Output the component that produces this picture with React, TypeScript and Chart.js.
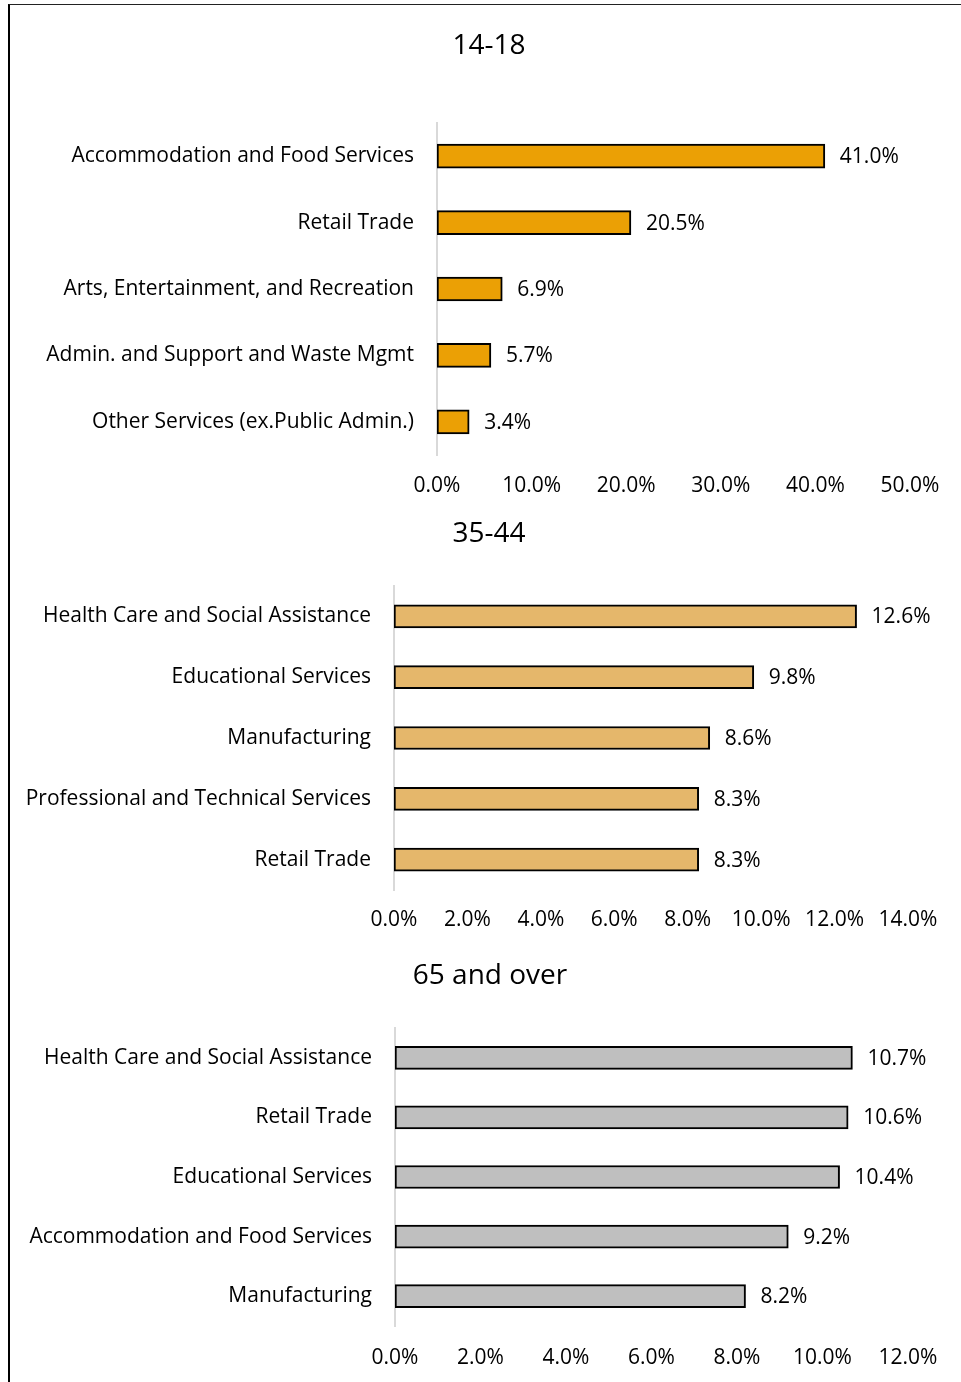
import React, { useEffect, useRef } from "react";
import { Chart, registerables } from "chart.js";

Chart.register(...registerables);

const youthTitle = "14-18";
const youthCategories = [
  "Accommodation and Food Services",
  "Retail Trade",
  "Arts, Entertainment, and Recreation",
  "Admin. and Support and Waste Mgmt",
  "Other Services (ex.Public Admin.)",
];
const youthValues = [41.0, 20.5, 6.9, 5.7, 3.4];
const youthAxis = { max: 50, step: 10 };

const midTitle = "35-44";
const midCategories = [
  "Health Care and Social Assistance",
  "Educational Services",
  "Manufacturing",
  "Professional and Technical Services",
  "Retail Trade",
];
const midValues = [12.6, 9.8, 8.6, 8.3, 8.3];
const midAxis = { max: 14, step: 2 };

const seniorTitle = "65 and over";
const seniorCategories = [
  "Health Care and Social Assistance",
  "Retail Trade",
  "Educational Services",
  "Accommodation and Food Services",
  "Manufacturing",
];
const seniorValues = [10.7, 10.6, 10.4, 9.2, 8.2];
const seniorAxis = { max: 12, step: 2 };

const FONT = "'Open Sans', 'Noto Sans', sans-serif";
const LABEL_SIZE = 21;
const TITLE_SIZE = 28;
const CANVAS_LEFT = 10;
const CANVAS_W = 951;

type PanelProps = {
  title: string;
  categories: string[];
  values: number[];
  axis: { max: number; step: number };
  color: string;
  top: number;
  height: number;
  titleCenterX: number;
  titleCenter: number;
  plotTop: number;
  plotBottom: number;
  axisX: number;
  axisEnd: number;
  barThickness: number;
  tickPad: number;
};

const valueLabels = {
  id: "valueLabels",
  afterDatasetsDraw(chart: any) {
    const ctx = chart.ctx;
    const meta = chart.getDatasetMeta(0);
    const data = chart.data.datasets[0].data as number[];
    ctx.save();
    ctx.font = `${LABEL_SIZE}px ${FONT}`;
    ctx.fillStyle = "#000";
    ctx.textAlign = "left";
    ctx.textBaseline = "middle";
    meta.data.forEach((bar: any, i: number) => {
      ctx.fillText(data[i].toFixed(1) + "%", bar.x + 15, bar.y + 1);
    });
    ctx.restore();
  },
};

const panelTitle = {
  id: "panelTitle",
  afterDraw(chart: any, _args: any, opts: any) {
    const ctx = chart.ctx;
    ctx.save();
    ctx.font = `${TITLE_SIZE}px ${FONT}`;
    ctx.fillStyle = "#000";
    ctx.textAlign = "center";
    ctx.textBaseline = "middle";
    ctx.fillText(opts.text, opts.x, opts.y);
    ctx.restore();
  },
};

function Panel(p: PanelProps) {
  const ref = useRef<HTMLCanvasElement | null>(null);
  useEffect(() => {
    if (!ref.current) return;
    const padTop = p.plotTop - p.top;
    const padRight = CANVAS_LEFT + CANVAS_W - p.axisEnd;
    const yWidth = p.axisX - CANVAS_LEFT;
    const xHeight = p.top + p.height - p.plotBottom;
    const chart = new Chart(ref.current, {
      type: "bar",
      data: {
        labels: p.categories,
        datasets: [
          {
            data: p.values,
            backgroundColor: p.color,
            borderColor: "#000",
            borderWidth: 2,
            borderSkipped: false,
            barThickness: p.barThickness,
          },
        ],
      },
      options: {
        indexAxis: "y",
        responsive: false,
        animation: false,
        devicePixelRatio: 1,
        layout: { padding: { left: 0, right: padRight, top: padTop, bottom: 0 } },
        plugins: {
          legend: { display: false },
          tooltip: { enabled: false },
          title: { display: false },
          panelTitle: {
            text: p.title,
            x: p.titleCenterX - CANVAS_LEFT,
            y: p.titleCenter - p.top,
          },
        } as any,
        scales: {
          x: {
            min: 0,
            max: p.axis.max,
            grid: { display: false, drawTicks: false },
            border: { display: false },
            ticks: {
              stepSize: p.axis.step,
              color: "#000",
              padding: p.tickPad,
              font: { family: FONT, size: LABEL_SIZE },
              callback: (v: any) => Number(v).toFixed(1) + "%",
            },
            afterFit: (s: any) => {
              s.height = xHeight;
            },
          },
          y: {
            grid: { display: false, drawTicks: false },
            border: { display: true, color: "#d9d9d9", width: 2 },
            ticks: {
              color: "#000",
              padding: 23,
              font: { family: FONT, size: LABEL_SIZE },
            },
            afterFit: (s: any) => {
              s.width = yWidth;
            },
          },
        },
      },
      plugins: [valueLabels, panelTitle],
    });
    return () => chart.destroy();
  }, []);
  return (
    <canvas
      ref={ref}
      width={CANVAS_W}
      height={p.height}
      style={{
        position: "absolute",
        left: CANVAS_LEFT,
        top: p.top,
        width: CANVAS_W,
        height: p.height,
      }}
    />
  );
}

export default function App() {
  return (
    <div
      style={{
        position: "fixed",
        left: 0,
        top: 0,
        width: 961,
        height: 1382,
        overflow: "hidden",
        background: "#fff",
      }}
    >
      <div
        style={{
          position: "absolute",
          left: 8,
          top: 4,
          width: 2000,
          height: 2000,
          borderLeft: "2px solid #000",
          borderTop: "1.5px solid #222",
        }}
      />
      <Panel
        title={youthTitle}
        categories={youthCategories}
        values={youthValues}
        axis={youthAxis}
        color="#EBA005"
        top={10}
        height={495}
        titleCenterX={489}
        titleCenter={46}
        plotTop={123}
        plotBottom={455}
        axisX={437}
        axisEnd={910}
        barThickness={24}
        tickPad={18}
      />
      <Panel
        title={midTitle}
        categories={midCategories}
        values={midValues}
        axis={midAxis}
        color="#E5B76B"
        top={505}
        height={438}
        titleCenterX={489}
        titleCenter={534}
        plotTop={586}
        plotBottom={890}
        axisX={394}
        axisEnd={908}
        barThickness={23}
        tickPad={17}
      />
      <Panel
        title={seniorTitle}
        categories={seniorCategories}
        values={seniorValues}
        axis={seniorAxis}
        color="#BFBFBF"
        top={943}
        height={439}
        titleCenterX={490}
        titleCenter={976}
        plotTop={1028}
        plotBottom={1326}
        axisX={395}
        axisEnd={908}
        barThickness={23}
        tickPad={19}
      />
    </div>
  );
}
